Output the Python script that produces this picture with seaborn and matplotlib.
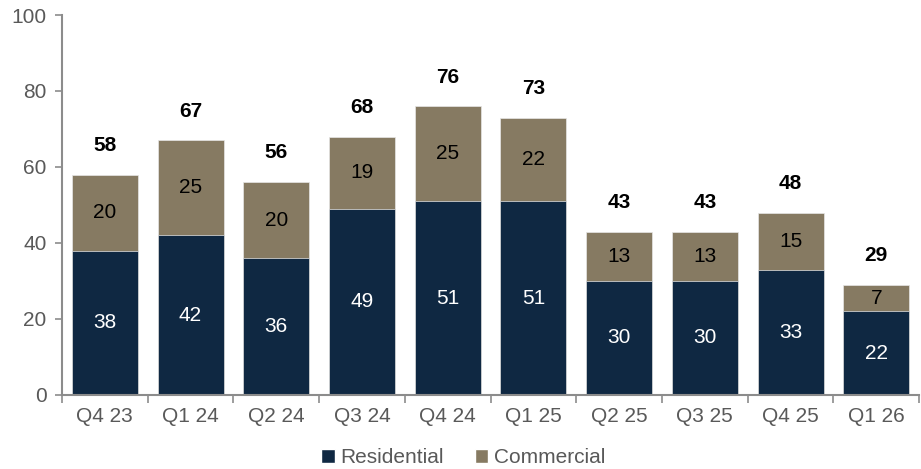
import matplotlib
matplotlib.use("Agg")
import matplotlib.pyplot as plt
from matplotlib.patches import Patch
import seaborn as sns
import pandas as pd
import numpy as np

quarters = ["Q4 23", "Q1 24", "Q2 24", "Q3 24", "Q4 24", "Q1 25", "Q2 25", "Q3 25", "Q4 25", "Q1 26"]
residential = [38, 42, 36, 49, 51, 51, 30, 30, 33, 22]
commercial = [20, 25, 20, 19, 25, 22, 13, 13, 15, 7]

RES_COLOR = "#0F2842"
COM_COLOR = "#867A62"
GREY = "#595959"
SPINE = "#8C8C8C"
FS = 15

sns.set_theme(style="white")
plt.rcParams["font.family"] = ["Liberation Sans", "DejaVu Sans"]

df = pd.DataFrame({"quarter": quarters, "res": residential, "com": commercial})
df["total"] = df["res"] + df["com"]

fig = plt.figure(figsize=(9.21, 4.69), dpi=100)
ax = fig.add_axes([0.0673, 0.158, 0.9307, 0.81])

# Stacked bars: draw totals in commercial colour, residential drawn over the base
sns.barplot(data=df, x="quarter", y="total", color=COM_COLOR, width=0.77,
            saturation=1, ax=ax, edgecolor="#E6E6E6", linewidth=0.5)
sns.barplot(data=df, x="quarter", y="res", color=RES_COLOR, width=0.77,
            saturation=1, ax=ax, edgecolor="#E6E6E6", linewidth=0.5)

for i, row in df.iterrows():
    ax.text(i, row["res"] / 2, f"{row['res']}", ha="center", va="center",
            color="white", fontsize=FS)
    ax.text(i, row["res"] + row["com"] / 2, f"{row['com']}", ha="center", va="center",
            color="black", fontsize=FS)
    ax.annotate(f"{row['total']}", (i, row["total"]), xytext=(0, 21),
                textcoords="offset points", ha="center", va="center",
                fontsize=FS, fontweight="bold", color="black")

ax.set_xlim(-0.5, len(quarters) - 0.5)
ax.set_ylim(0, 100)
ax.set_yticks(np.arange(0, 101, 20))
ax.set_xlabel("")
ax.set_ylabel("")

for s in ["top", "right"]:
    ax.spines[s].set_visible(False)
for s in ["left", "bottom"]:
    ax.spines[s].set_color(SPINE)
    ax.spines[s].set_linewidth(1.5)

ax.tick_params(axis="y", left=True, length=5, width=1.2, color=SPINE,
               labelsize=FS, labelcolor=GREY, pad=6)
ax.tick_params(axis="x", which="major", length=0, labelsize=FS, labelcolor=GREY, pad=9)
ax.set_xticks(np.arange(-0.5, len(quarters), 1.0), minor=True)
ax.tick_params(axis="x", which="minor", bottom=True, length=6, width=1.2, color=SPINE)

handles = [Patch(facecolor=RES_COLOR, label="Residential"),
           Patch(facecolor=COM_COLOR, label="Commercial")]
fig.legend(handles=handles, loc="center", bbox_to_anchor=(0.503, 0.024), ncol=2,
           frameon=False, fontsize=FS, handlelength=0.65, handleheight=0.65,
           handletextpad=0.25, columnspacing=1.5, labelcolor=GREY)

fig.savefig("out.png", dpi=100)
